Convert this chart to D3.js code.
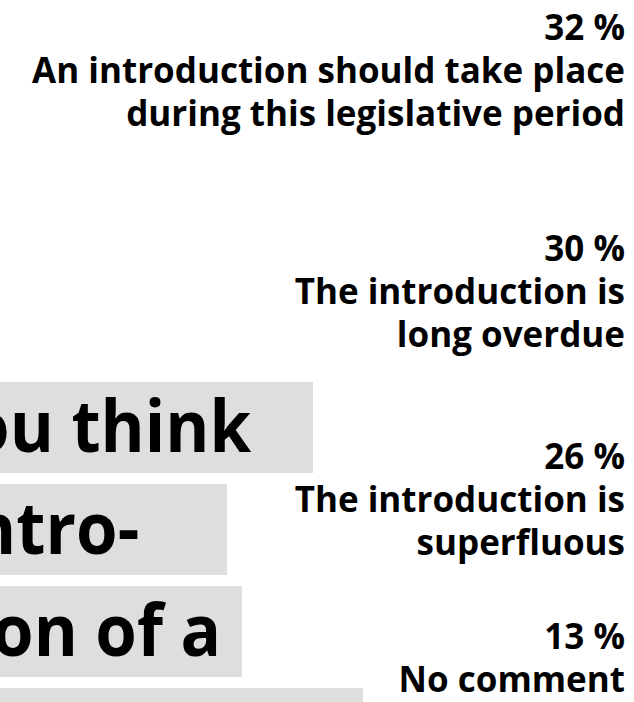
<!DOCTYPE html>
<html>
<head>
<meta charset="utf-8">
<script src="https://cdn.jsdelivr.net/npm/d3@7"></script>
<style>
  html, body { margin: 0; padding: 0; background: #ffffff; overflow: hidden; }
  svg { display: block; }
</style>
</head>
<body>
<div id="chart"></div>
<script>
// ---- data ----
const categories = [
  "An introduction should take place during this legislative period",
  "The introduction is long overdue",
  "The introduction is superfluous",
  "No comment"
];
const labelLines = [
  ["An introduction should take place", "during this legislative period"],
  ["The introduction is", "long overdue"],
  ["The introduction is", "superfluous"],
  ["No comment"]
];
const values = [32, 30, 26, 13];
const titleLines = ["Do you think", "the intro-", "duction of a", ""];

// ---- layout ----
const W = 634, H = 702;
const labelFont = "'Open Sans', Lato, sans-serif";
const labelSize = 35;
const labelPitch = 43;
const rightEdge = 625;

const titleFont = "'Open Sans', Lato, sans-serif";
const titleSize = 72;
const titleSquash = 0.934;
const titleX0 = -179;
const titleTop = 382, titlePitch = 102, titleBoxH = 91, titleBaseline = 70;
const titleBoxRight = [313, 227, 242, 363];

const svg = d3.select("#chart").append("svg")
  .attr("width", W).attr("height", H);

// cumulative start of each share -> vertical position of its label block
const cum = [];
values.reduce((acc, v, i) => { cum[i] = acc; return acc + v; }, 0);
const y = d3.scaleLinear().domain([0, 100]).range([40, 731.7]);

// ---- title boxes (large heading, partially outside the view) ----
const tg = svg.append("g").attr("class", "title");
const tl = tg.selectAll("g.line").data(titleLines).join("g")
  .attr("class", "line")
  .attr("transform", (d, i) => `translate(0,${titleTop + i * titlePitch})`);
tl.append("rect")
  .attr("x", titleX0 - 40)
  .attr("y", 0)
  .attr("width", (d, i) => titleBoxRight[i] - (titleX0 - 40))
  .attr("height", titleBoxH)
  .attr("fill", "#dedede");
tl.append("text")
  .attr("transform", `translate(${titleX0},${titleBaseline}) scale(${titleSquash},1)`)
  .attr("font-family", titleFont)
  .attr("font-weight", 700)
  .attr("font-size", titleSize)
  .attr("fill", "#000")
  .text(d => d);

// ---- share labels ----
const lg = svg.append("g").attr("class", "labels");
const groups = lg.selectAll("g.item").data(values).join("g")
  .attr("class", "item")
  .attr("transform", (d, i) => `translate(${rightEdge},${y(cum[i])})`);
groups.append("text")
  .attr("text-anchor", "end")
  .attr("font-family", labelFont)
  .attr("font-weight", 700)
  .attr("font-size", labelSize)
  .attr("fill", "#000")
  .each(function (d, i) {
    const t = d3.select(this);
    t.append("tspan").attr("x", 0).attr("y", 0).text(d + " %");
    labelLines[i].forEach((line, j) => {
      t.append("tspan").attr("x", 0).attr("y", (j + 1) * labelPitch).text(line);
    });
  });
</script>
</body>
</html>
